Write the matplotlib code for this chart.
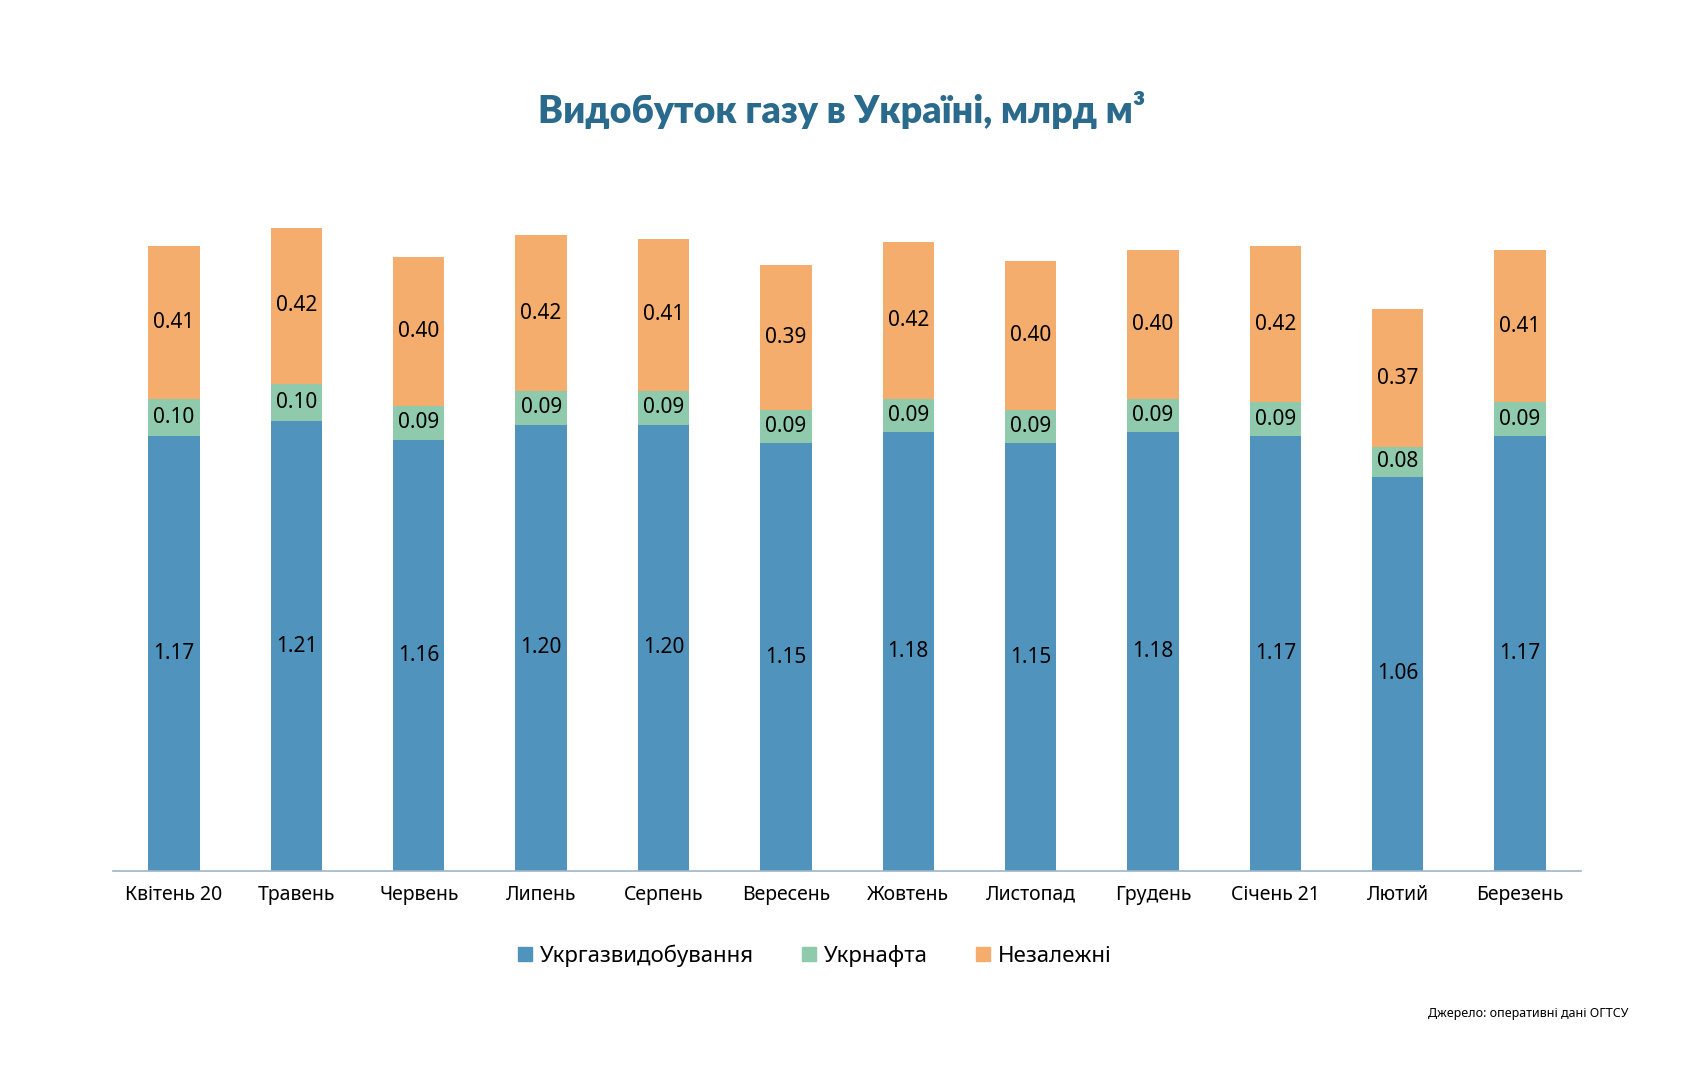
import matplotlib
matplotlib.use("Agg")
import matplotlib.pyplot as plt
import numpy as np

months = ["Квітень 20", "Травень", "Червень", "Липень", "Серпень", "Вересень",
          "Жовтень", "Листопад", "Грудень", "Січень 21", "Лютий", "Березень"]
ugv = [1.17, 1.21, 1.16, 1.20, 1.20, 1.15, 1.18, 1.15, 1.18, 1.17, 1.06, 1.17]
unafta = [0.10, 0.10, 0.09, 0.09, 0.09, 0.09, 0.09, 0.09, 0.09, 0.09, 0.08, 0.09]
indep = [0.41, 0.42, 0.40, 0.42, 0.41, 0.39, 0.42, 0.40, 0.40, 0.42, 0.37, 0.41]
names = ["Укргазвидобування", "Укрнафта", "Незалежні"]
colors = ["#5094be", "#8fcaad", "#f5ad6e"]

plt.rcParams["font.family"] = ["Noto Sans", "DejaVu Sans"]

fig = plt.figure(figsize=(16.84, 10.8), dpi=100)
ax = fig.add_axes([0.067, 0.1935, 0.872, 0.624])

x = np.arange(len(months))
bottom = np.zeros(len(months))
for vals, name, col in zip([ugv, unafta, indep], names, colors):
    vals = np.array(vals)
    ax.bar(x, vals, 0.42, bottom=bottom, color=col, label=name, zorder=2)
    for xi, b, v in zip(x, bottom, vals):
        ax.text(xi, b + v / 2, f"{v:.2f}", ha="center", va="center", fontsize=15, color="black")
    bottom += vals

ax.set_xlim(-0.5, len(months) - 0.5)
ax.set_ylim(0, 1.812)
ax.set_yticks([])
ax.set_xticks(x)
ax.set_xticklabels(months, fontsize=14)
ax.tick_params(axis="x", length=0, pad=10)
for s in ["top", "right", "left"]:
    ax.spines[s].set_visible(False)
ax.spines["bottom"].set_color("#9db5c7")
ax.spines["bottom"].set_linewidth(1.2)

fig.text(0.5, 0.898, "Видобуток газу в Україні, млрд м³", ha="center", va="center",
         fontsize=27, fontweight="heavy", color="#2a6a8c", family=["Lato", "DejaVu Sans"])

handles = [plt.Line2D([], [], marker="s", ls="none", color=c, markersize=10) for c in colors]
fig.legend(handles, names, loc="center", bbox_to_anchor=(0.484, 0.115), ncol=3,
           frameon=False, fontsize=16, handlelength=0.6, handletextpad=0.35, columnspacing=2.2)

fig.text(0.967, 0.062, "Джерело: оперативні дані ОГТСУ", ha="right", va="center", fontsize=9)

fig.savefig("out.png", dpi=100, facecolor="white")
